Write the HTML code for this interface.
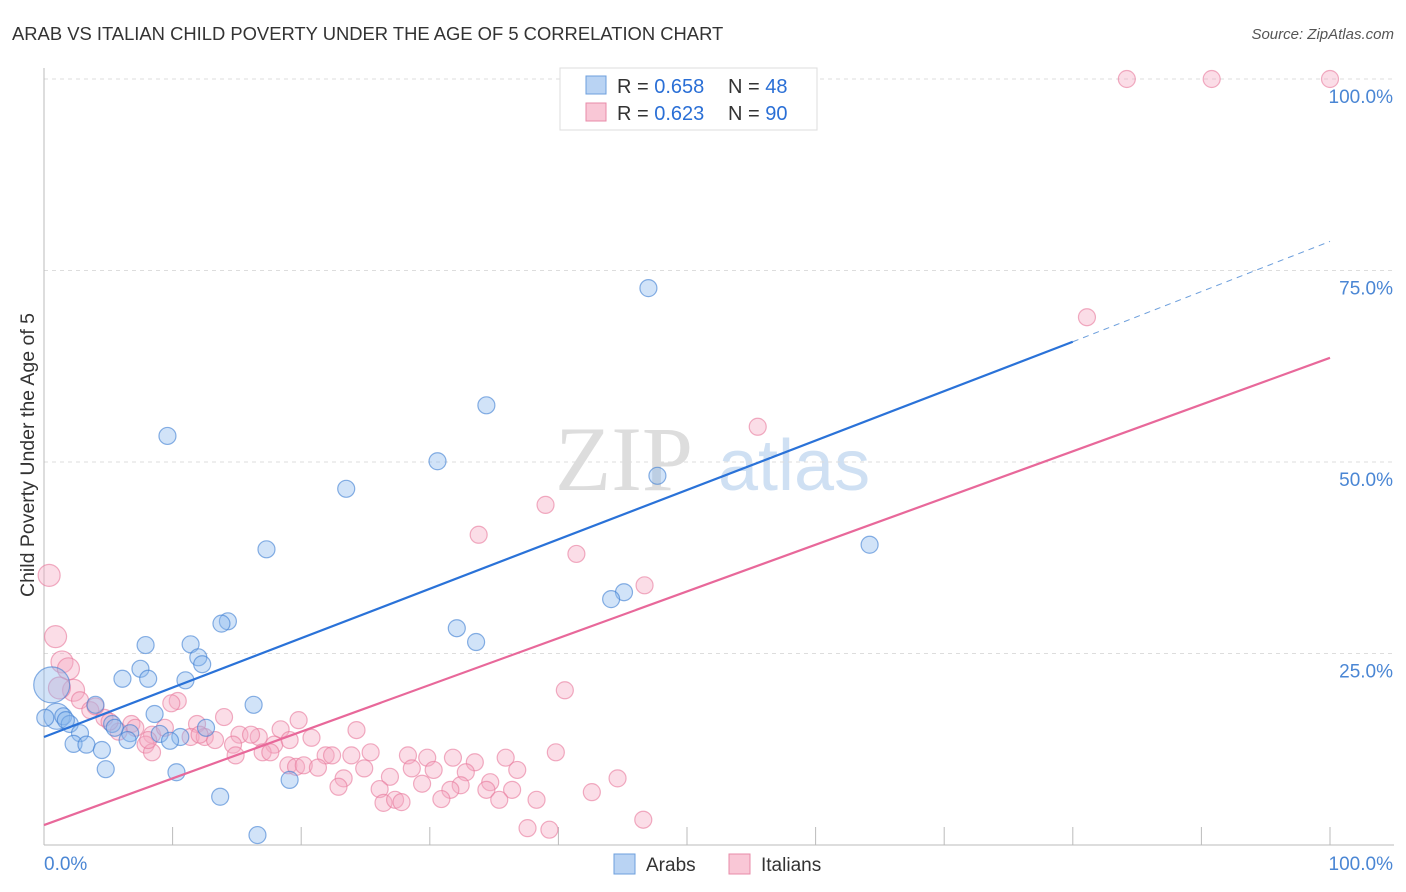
<!DOCTYPE html>
<html><head><meta charset="utf-8"><style>
body{margin:0;background:#fff;font-family:"Liberation Sans",sans-serif}
svg{display:block}
</style></head><body>
<svg id="chart" width="1406" height="892">
<text x="12" y="40" font-size="18.4" fill="#333">ARAB VS ITALIAN CHILD POVERTY UNDER THE AGE OF 5 CORRELATION CHART</text>
<text x="1394" y="39" font-size="15" fill="#555" text-anchor="end" font-style="italic">Source: ZipAtlas.com</text>
<text x="34" y="455" font-size="19.5" fill="#333" text-anchor="middle" transform="rotate(-90 34 455)">Child Poverty Under the Age of 5</text>
<g><text x="555" y="490" font-size="92" fill="#ddd" font-family="Liberation Serif,serif">ZIP</text><text x="718" y="490" font-size="72" fill="#cfe0f3">atlas</text></g>
<g id="grid"></g><g id="axes"></g><g id="marks"></g>
<g>
<rect x="560" y="68" width="257" height="62" fill="#fff" stroke="#ddd"/>
<rect x="586" y="76" width="20" height="18" fill="#b9d3f3" stroke="#6d9fdc"/>
<rect x="586" y="103" width="20" height="18" fill="#f9c7d6" stroke="#e88ba8"/>
<text x="617" y="93" font-size="20" fill="#333">R = <tspan fill="#2a6fd6">0.658</tspan></text>
<text x="728" y="93" font-size="20" fill="#333">N = <tspan fill="#2a6fd6">48</tspan></text>
<text x="617" y="120" font-size="20" fill="#333">R = <tspan fill="#2a6fd6">0.623</tspan></text>
<text x="728" y="120" font-size="20" fill="#333">N = <tspan fill="#2a6fd6">90</tspan></text>
</g>
<g>
<rect x="614" y="854" width="21" height="20" fill="#b9d3f3" stroke="#6d9fdc"/>
<text x="646" y="871" font-size="19" fill="#333">Arabs</text>
<rect x="729" y="854" width="21" height="20" fill="#f9c7d6" stroke="#e88ba8"/>
<text x="761" y="871" font-size="19" fill="#333">Italians</text>
</g>
</svg>
<script>
const yTicks=[25,50,75,100];
const yTickLabels=["25.0%","50.0%","75.0%","100.0%"];
const xTicks=[10,20,30,40,50,60,70,80,90,100];
const arabX=[47.0,34.4,9.6,30.6,47.7,23.5,64.2,17.3,45.1,44.1,14.3,13.8,32.1,33.6,7.9,11.4,12.0,12.3,7.5,6.1,8.1,11.0,0.6,16.3,4.0,8.6,1.0,1.5,2.0,5.3,2.8,6.7,9.0,6.5,10.6,2.3,3.3,9.8,4.5,12.6,4.8,10.3,19.1,13.7,16.6,0.1,1.7,5.5];
const arabY=[72.7,57.4,53.4,50.1,48.2,46.5,39.2,38.6,33.0,32.1,29.2,28.9,28.3,26.5,26.1,26.2,24.5,23.6,23.0,21.7,21.7,21.5,20.9,18.3,18.3,17.1,16.8,16.8,15.8,15.8,14.6,14.6,14.5,13.7,14.1,13.2,13.1,13.6,12.4,15.3,9.9,9.5,8.5,6.3,1.3,16.6,16.3,15.3];
const itX=[84.2,90.8,100,81.1,55.5,39.0,33.8,41.4,46.7,0.4,0.9,1.4,1.9,2.3,2.8,40.5,3.6,4.7,10.4,9.9,14.0,19.8,24.3,18.4,11.9,6.8,5.8,8.4,11.4,12.5,15.2,16.7,16.1,13.3,14.7,17.9,20.8,7.9,8.4,14.9,17.0,17.6,21.9,22.4,23.9,25.4,28.3,29.8,31.8,33.5,35.9,39.8,19.0,19.6,20.2,21.3,24.9,28.6,30.3,32.8,36.8,23.3,26.9,34.7,44.6,22.9,26.1,29.4,32.4,31.6,34.4,36.4,42.6,26.4,27.3,27.8,30.9,35.4,38.3,37.6,39.3,46.6,1.2,4.0,5.1,7.1,9.4,12.1,19.1,8.1];
const itY=[100,100,100,68.9,54.6,44.4,40.5,38.0,33.9,35.2,27.2,23.9,23.0,20.2,18.9,20.2,17.6,16.6,18.8,18.5,16.7,16.3,15.0,15.1,15.8,15.8,14.8,14.4,14.1,14.1,14.4,14.1,14.4,13.7,13.1,13.1,14.0,13.1,12.1,11.7,12.1,12.1,11.7,11.7,11.7,12.1,11.7,11.4,11.4,10.8,11.4,12.1,10.4,10.2,10.4,10.1,10.0,10.0,9.8,9.5,9.8,8.7,8.9,8.2,8.7,7.6,7.3,8.0,7.8,7.2,7.2,7.2,6.9,5.5,5.9,5.6,6.0,5.9,5.9,2.2,2.0,3.3,20.5,18.1,16.1,15.3,15.3,14.4,13.7,13.7];
const arabLine=[14.1,65.7,78.8]; // y at x=0, x=80, x=100
const itLine=[2.6,63.6];
const NS="http://www.w3.org/2000/svg";
const X=v=>44+v*12.86, Y=v=>845-v*7.66;
function mk(p,t,a){const e=document.createElementNS(NS,t);for(const k in a)e.setAttribute(k,a[k]);document.getElementById(p).appendChild(e);return e;}
yTicks.forEach((t,i)=>{
 const l=mk('grid','line',{x1:44,x2:1394,y1:Y(t),y2:Y(t),stroke:'#ddd','stroke-dasharray':'4,4'});
 
 
 const tx=mk('grid','text',{x:1393,y:Y(t)+24,'font-size':19,fill:'#4a86d4','text-anchor':'end'});tx.textContent=yTickLabels[i];
 
 
});
const ax=mk('axes','line',{x1:44,x2:44,y1:68,y2:845,stroke:'#bbb'});


const bx=mk('axes','line',{x1:44,x2:1394,y1:845,y2:845,stroke:'#bbb'});


xTicks.forEach(t=>{const l=mk('axes','line',{x1:X(t),x2:X(t),y1:827,y2:845,stroke:'#bbb'});
 
 });
const t0=mk('axes','text',{x:44,y:870,'font-size':19,fill:'#4a86d4'});t0.textContent='0.0%';


const t1=mk('axes','text',{x:1393,y:870,'font-size':19,fill:'#4a86d4','text-anchor':'end'});t1.textContent='100.0%';


itX.forEach((x,i)=>{const r=(x<2.5&&itY[i]>20)?11:8.5;
 const c=mk('marks','circle',{cx:X(x),cy:Y(itY[i]),r:r,fill:'rgba(246,170,195,0.4)',stroke:'rgba(232,120,155,0.6)','stroke-width':1.2});
 
 });
arabX.forEach((x,i)=>{const r=i==22?18:(i==26?13:8.5);
 const c=mk('marks','circle',{cx:X(x),cy:Y(arabY[i]),r:r,fill:'rgba(140,185,238,0.4)',stroke:'rgba(60,125,210,0.6)','stroke-width':1.2});
 
 });
const la=mk('marks','line',{x1:X(0),y1:Y(arabLine[0]),x2:X(80),y2:Y(arabLine[1]),stroke:'#2a72d8','stroke-width':2.2});


const ld=mk('marks','line',{x1:X(80),y1:Y(arabLine[1]),x2:X(100),y2:Y(arabLine[2]),stroke:'#6d9fdc','stroke-width':1,'stroke-dasharray':'6,5'});


const li=mk('marks','line',{x1:X(0),y1:Y(itLine[0]),x2:X(100),y2:Y(itLine[1]),stroke:'#e8689a','stroke-width':2.2});


</script>
</body></html>
